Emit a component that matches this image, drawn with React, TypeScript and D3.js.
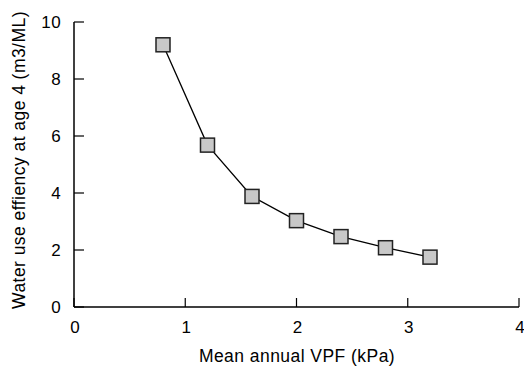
import React from "react";
import * as d3 from "d3";

const vpf = [0.8, 1.2, 1.6, 2.0, 2.4, 2.8, 3.2];
const wue = [9.2, 5.68, 3.88, 3.03, 2.47, 2.08, 1.75];
const xTicks = [0, 1, 2, 3, 4];
const yTicks = [0, 2, 4, 6, 8, 10];

export default function App() {
  const W = 524, H = 367;
  const x = d3.scaleLinear().domain([0, 4]).range([74, 519]);
  const y = d3.scaleLinear().domain([0, 10]).range([307, 22]);
  const pts = vpf.map((v, i) => [x(v), y(wue[i])] as [number, number]);
  const line = d3.line()(pts) || "";
  const font = "Liberation Sans, Arial, Helvetica, sans-serif";
  const s = 14;
  return (
    <svg width={W} height={H} style={{ position: "absolute", left: 0, top: 0 }} fontFamily={font}>
      <rect width={W} height={H} fill="#fff" />
      <line x1={74} x2={74} y1={y(10)} y2={y(0)} stroke="#000" strokeWidth={1.5} />
      <line x1={74} x2={x(4)} y1={y(0)} y2={y(0)} stroke="#000" strokeWidth={1.5} />
      {yTicks.map((t) => (
        <g key={"y" + t}>
          <line x1={74} x2={84} y1={y(t)} y2={y(t)} stroke="#000" strokeWidth={1.2} />
          <text x={61} y={y(t)} dy="0.36em" textAnchor="end" fontSize={17} letterSpacing={0.4}>{t}</text>
        </g>
      ))}
      {xTicks.map((t) => (
        <g key={"x" + t}>
          <line x1={x(t)} x2={x(t)} y1={y(0)} y2={y(0) - 9} stroke="#000" strokeWidth={1.2} />
          <text x={x(t) + 1} y={333} textAnchor="middle" fontSize={17}>{t}</text>
        </g>
      ))}
      <path d={line} fill="none" stroke="#000" strokeWidth={1.3} />
      {pts.map(([px, py], i) => (
        <rect key={i} x={px - s / 2} y={py - s / 2} width={s} height={s} fill="#c8c8c8" stroke="#222" strokeWidth={1.5} />
      ))}
      <text x={297} y={362} textAnchor="middle" fontSize={17.5} letterSpacing={0.45}>Mean annual VPF (kPa)</text>
      <text transform={`translate(25,160) rotate(-90)`} textAnchor="middle" fontSize={17.5} letterSpacing={0.45}>Water use effiency at age 4 (m3/ML)</text>
    </svg>
  );
}
